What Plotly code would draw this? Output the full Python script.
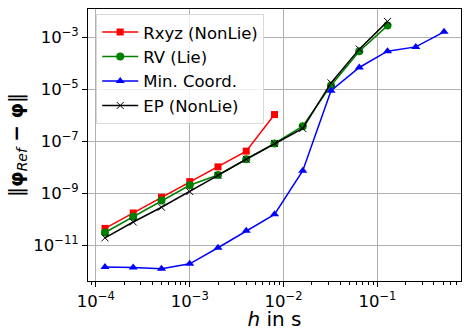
import plotly.graph_objects as go

h = [1.25e-4, 2.5e-4, 5e-4, 1e-3, 2e-3, 4e-3, 8e-3, 1.6e-2, 3.2e-2, 6.4e-2, 0.128, 0.256, 0.512]

rxyz = [4.6e-11, 1.8e-10, 7.2e-10, 2.9e-9, 1.07e-8, 4.3e-8, 1.1e-6]
rv = [3.2e-11, 1.3e-10, 5.4e-10, 2.1e-9, 5.2e-9, 2.1e-8, 8.5e-8, 3.9e-7, 1.45e-5, 3.0e-4, 2.9e-3]
mincoord = [1.5e-12, 1.45e-12, 1.3e-12, 2.0e-12, 8.3e-12, 3.7e-11, 1.6e-10, 7.6e-9, 9.1e-6, 7.1e-5, 3.0e-4, 4.4e-4, 1.67e-3]
ep = [2.0e-11, 8.1e-11, 3.0e-10, 1.2e-9, 5.0e-9, 2.1e-8, 8.5e-8, 3.2e-7, 1.8e-5, 3.6e-4, 4.2e-3]

names = ["Rxyz (NonLie)", "RV (Lie)", "Min. Coord.", "EP (NonLie)"]

x_major = [1e-4, 1e-3, 1e-2, 1e-1]
x_major_text = ["10<sup>−4</sup>", "10<sup>−3</sup>", "10<sup>−2</sup>", "10<sup>−1</sup>"]
y_major = [1e-11, 1e-9, 1e-7, 1e-5, 1e-3]
y_major_text = ["10<sup>−11</sup>", "10<sup>−9</sup>", "10<sup>−7</sup>", "10<sup>−5</sup>", "10<sup>−3</sup>"]

x_minor = [m * 10 ** e for e in range(-5, 1) for m in range(2, 10)]

FS = 16.5

fig = go.Figure()
fig.add_trace(go.Scatter(x=h[:len(rxyz)], y=rxyz, name=names[0], mode="lines+markers",
                         line=dict(color="red", width=1.5),
                         marker=dict(symbol="square", size=7, color="red"), legendgroup="a"))
fig.add_trace(go.Scatter(x=h[:len(rv)], y=rv, name=names[1], mode="lines+markers",
                         line=dict(color="green", width=1.5),
                         marker=dict(symbol="circle", size=8, color="green"), legendgroup="b"))
fig.add_trace(go.Scatter(x=h[:len(mincoord)], y=mincoord, name=names[2], mode="lines+markers",
                         line=dict(color="blue", width=1.5),
                         marker=dict(symbol="triangle-up", size=8, color="blue"), legendgroup="c"))
fig.add_trace(go.Scatter(x=h[:len(ep)], y=ep, name=names[3], mode="lines+markers",
                         line=dict(color="black", width=1.5),
                         marker=dict(symbol="x-thin", size=7, color="black",
                                     line=dict(color="black", width=1)), legendgroup="d"))

fig.update_layout(
    width=465, height=331,
    margin=dict(l=88, r=3, t=9, b=43),
    paper_bgcolor="white", plot_bgcolor="white",
    font=dict(family="DejaVu Sans", size=FS, color="black"),
    legend=dict(x=0.022, y=0.982, xanchor="left", yanchor="top",
                bgcolor="rgba(255,255,255,0.8)", bordercolor="#d9d9d9", borderwidth=1,
                font=dict(size=FS), tracegroupgap=2, traceorder="normal", itemwidth=36),
)
fig.update_xaxes(
    type="log", range=[-4.084, -0.11],
    tickmode="array", tickvals=x_major, ticktext=x_major_text,
    ticks="outside", ticklen=5, tickcolor="black",
    showgrid=True, gridcolor="#b0b0b0", gridwidth=1,
    showline=True, linecolor="black", linewidth=1, mirror=True,
    minor=dict(tickmode="array", tickvals=x_minor, ticks="outside", ticklen=3,
               tickcolor="black", showgrid=False),
    title=dict(text="<i>h</i> in s", standoff=3),
    zeroline=False,
)
fig.update_yaxes(
    type="log", range=[-12.36, -1.90],
    tickmode="array", tickvals=y_major, ticktext=y_major_text,
    ticks="outside", ticklen=5, tickcolor="black",
    showgrid=True, gridcolor="#b0b0b0", gridwidth=1,
    showline=True, linecolor="black", linewidth=1, mirror=True,
    title=dict(text="‖<b>φ</b><sub><i>Ref</i></sub> <b>−</b> <b>φ</b>‖", standoff=4),
    zeroline=False,
)

fig.write_html("out.html")
